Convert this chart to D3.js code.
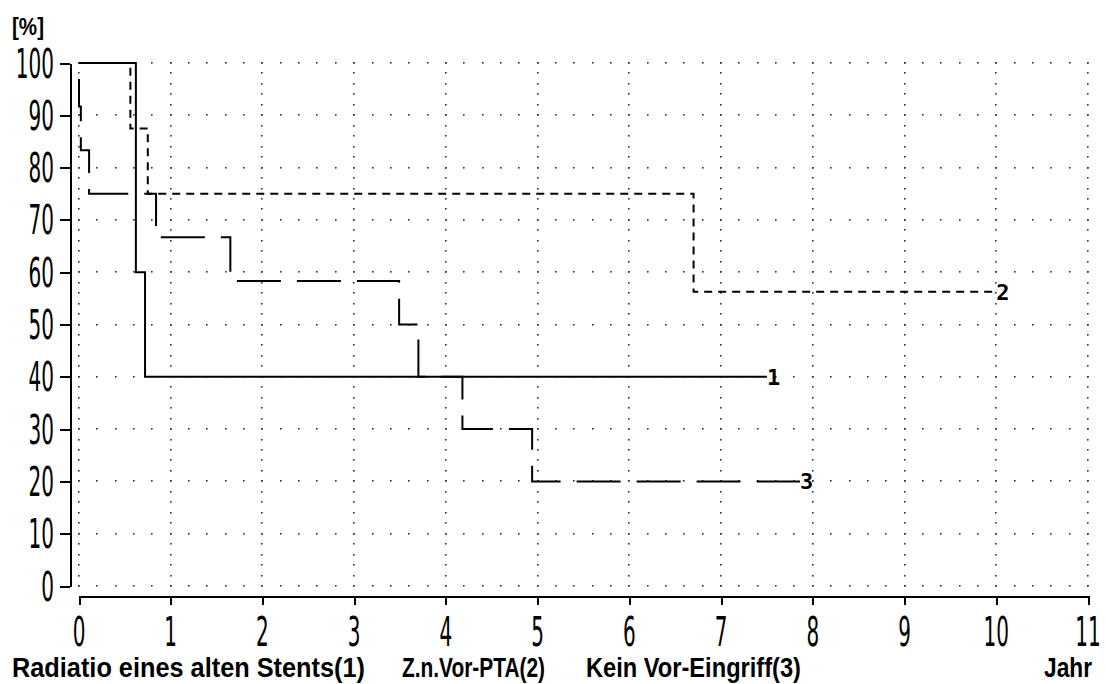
<!DOCTYPE html>
<html>
<head>
<meta charset="utf-8">
<script src="https://cdn.jsdelivr.net/npm/d3@7"></script>
<style>
  body { margin: 0; background: #fff; }
  svg { display: block; }
</style>
</head>
<body>
<div id="chart"></div>
<script>
(function() {
  // tick values
  var xTickValues = [0, 1, 2, 3, 4, 5, 6, 7, 8, 9, 10, 11];
  var yTickValues = [0, 10, 20, 30, 40, 50, 60, 70, 80, 90, 100];

  // survival curves (years / percent)
  var curve1Years  = [0, 0.62, 0.72, 7.5];
  var curve1Values = [100, 60, 40, 40];

  var curve2Years  = [0, 0.56, 0.75, 6.70, 10.0];
  var curve2Values = [100, 87.5, 75, 56.25, 56.25];

  var curve3Years  = [0, 0.0, 0.02, 0.11, 0.84, 1.65, 3.49, 3.70, 4.18, 4.94, 7.86];
  var curve3Values = [100, 91.7, 83.3, 75, 66.7, 58.3, 50, 40, 30, 20, 20];

  var curveNames = ["1", "2", "3"];
  var groupLabels = ["Radiatio eines alten Stents(1)", "Z.n.Vor-PTA(2)", "Kein Vor-Eingriff(3)"];
  var xTitle = "Jahr";
  var yTitle = "[%]";

  var width = 1106, height = 684;

  var svg = d3.select("#chart")
    .append("svg")
    .attr("width", width)
    .attr("height", height);

  var xPositionScale = d3.scaleLinear().domain([0, 11]).range([79, 1088]);
  var yPositionScale = d3.scaleLinear().domain([0, 100]).range([586, 63]);

  // dotted grid
  var grid = svg.append("g").attr("class", "grid");
  yTickValues.forEach(function(v) {
    grid.selectAll(null)
      .data(d3.range(0, 11.001, 0.2))
      .enter()
      .append("rect")
      .attr("x", function(d) { return Math.round(xPositionScale(d)) - 1; })
      .attr("y", Math.round(yPositionScale(v)) - 1)
      .attr("width", 1.6)
      .attr("height", 1.6)
      .attr("fill", "#333");
  });
  xTickValues.forEach(function(v) {
    grid.selectAll(null)
      .data(d3.range(0, 100.001, 2))
      .enter()
      .append("rect")
      .attr("x", Math.round(xPositionScale(v)) - 1)
      .attr("y", function(d) { return Math.round(yPositionScale(d)) - 1; })
      .attr("width", 1.6)
      .attr("height", 1.6)
      .attr("fill", "#333");
  });

  // axes
  var yAxis = d3.axisLeft(yPositionScale)
    .tickValues(yTickValues)
    .tickSize(10)
    .tickSizeOuter(0)
    .tickFormat("");
  svg.append("g")
    .attr("class", "axis y-axis")
    .attr("transform", "translate(70,0)")
    .call(yAxis);

  var xAxis = d3.axisBottom(xPositionScale)
    .tickValues(xTickValues)
    .tickSize(9)
    .tickSizeOuter(0)
    .tickFormat("");
  svg.append("g")
    .attr("class", "axis x-axis")
    .attr("transform", "translate(0,596)")
    .call(xAxis);

  svg.selectAll(".axis path, .axis line")
    .attr("stroke", "#000")
    .attr("stroke-width", 2)
    .attr("shape-rendering", "crispEdges");

  // tall narrow tick numbers
  svg.selectAll(".y-label")
    .data(yTickValues)
    .enter()
    .append("text")
    .attr("class", "y-label")
    .attr("transform", function(d) {
      return "translate(54," + (yPositionScale(d) + 14.5) + ") scale(0.5,1)";
    })
    .attr("text-anchor", "end")
    .attr("font-family", "DejaVu Sans")
    .attr("font-size", 40)
    .attr("fill", "#000")
    .text(function(d) { return d; });

  svg.selectAll(".x-label")
    .data(xTickValues)
    .enter()
    .append("text")
    .attr("class", "x-label")
    .attr("transform", function(d) {
      return "translate(" + xPositionScale(d) + ",646) scale(0.5,1)";
    })
    .attr("text-anchor", "middle")
    .attr("font-family", "DejaVu Sans")
    .attr("font-size", 40)
    .attr("fill", "#000")
    .text(function(d) { return d; });

  // curves
  var curves = [
    { name: curveNames[0], years: curve1Years, values: curve1Values, dash: null, offset: 0 },
    { name: curveNames[1], years: curve2Years, values: curve2Values, dash: "8,6", offset: 0 },
    { name: curveNames[2], years: curve3Years, values: curve3Values, dash: "44,16", offset: 44 }
  ];

  var stepLine = d3.line()
    .x(function(d) { return xPositionScale(d[0]); })
    .y(function(d) { return yPositionScale(d[1]); })
    .curve(d3.curveStepAfter);

  curves.forEach(function(c) {
    var pts = c.years.map(function(y, i) { return [y, c.values[i]]; });
    svg.append("path")
      .datum(pts)
      .attr("class", "curve")
      .attr("d", stepLine)
      .attr("fill", "none")
      .attr("stroke", "#000")
      .attr("stroke-width", 2)
      .attr("stroke-dasharray", c.dash)
      .attr("stroke-dashoffset", c.offset);

    var last = pts[pts.length - 1];
    svg.append("text")
      .attr("x", xPositionScale(last[0]))
      .attr("y", yPositionScale(last[1]))
      .attr("dy", "0.36em")
      .attr("font-family", "DejaVu Sans Mono")
      .attr("font-weight", "bold")
      .attr("font-size", 22)
      .attr("fill", "#000")
      .text(c.name);
  });

  // titles
  svg.append("text")
    .attr("x", 12)
    .attr("y", 35)
    .attr("font-family", "Liberation Sans")
    .attr("font-weight", "bold")
    .attr("font-size", 23)
    .attr("textLength", 32)
    .attr("lengthAdjust", "spacingAndGlyphs")
    .text(yTitle);

  var labelX = [12, 402, 586];
  var labelW = [353, 143, 215];
  svg.selectAll(".group-label")
    .data(groupLabels)
    .enter()
    .append("text")
    .attr("class", "group-label")
    .attr("x", function(d, i) { return labelX[i]; })
    .attr("y", 677)
    .attr("font-family", "Liberation Sans")
    .attr("font-weight", "bold")
    .attr("font-size", 27)
    .attr("textLength", function(d, i) { return labelW[i]; })
    .attr("lengthAdjust", "spacingAndGlyphs")
    .text(function(d) { return d; });

  svg.append("text")
    .attr("x", 1092)
    .attr("y", 677)
    .attr("text-anchor", "end")
    .attr("font-family", "Liberation Sans")
    .attr("font-weight", "bold")
    .attr("font-size", 27)
    .attr("textLength", 48)
    .attr("lengthAdjust", "spacingAndGlyphs")
    .text(xTitle);
})();
</script>
</body>
</html>
